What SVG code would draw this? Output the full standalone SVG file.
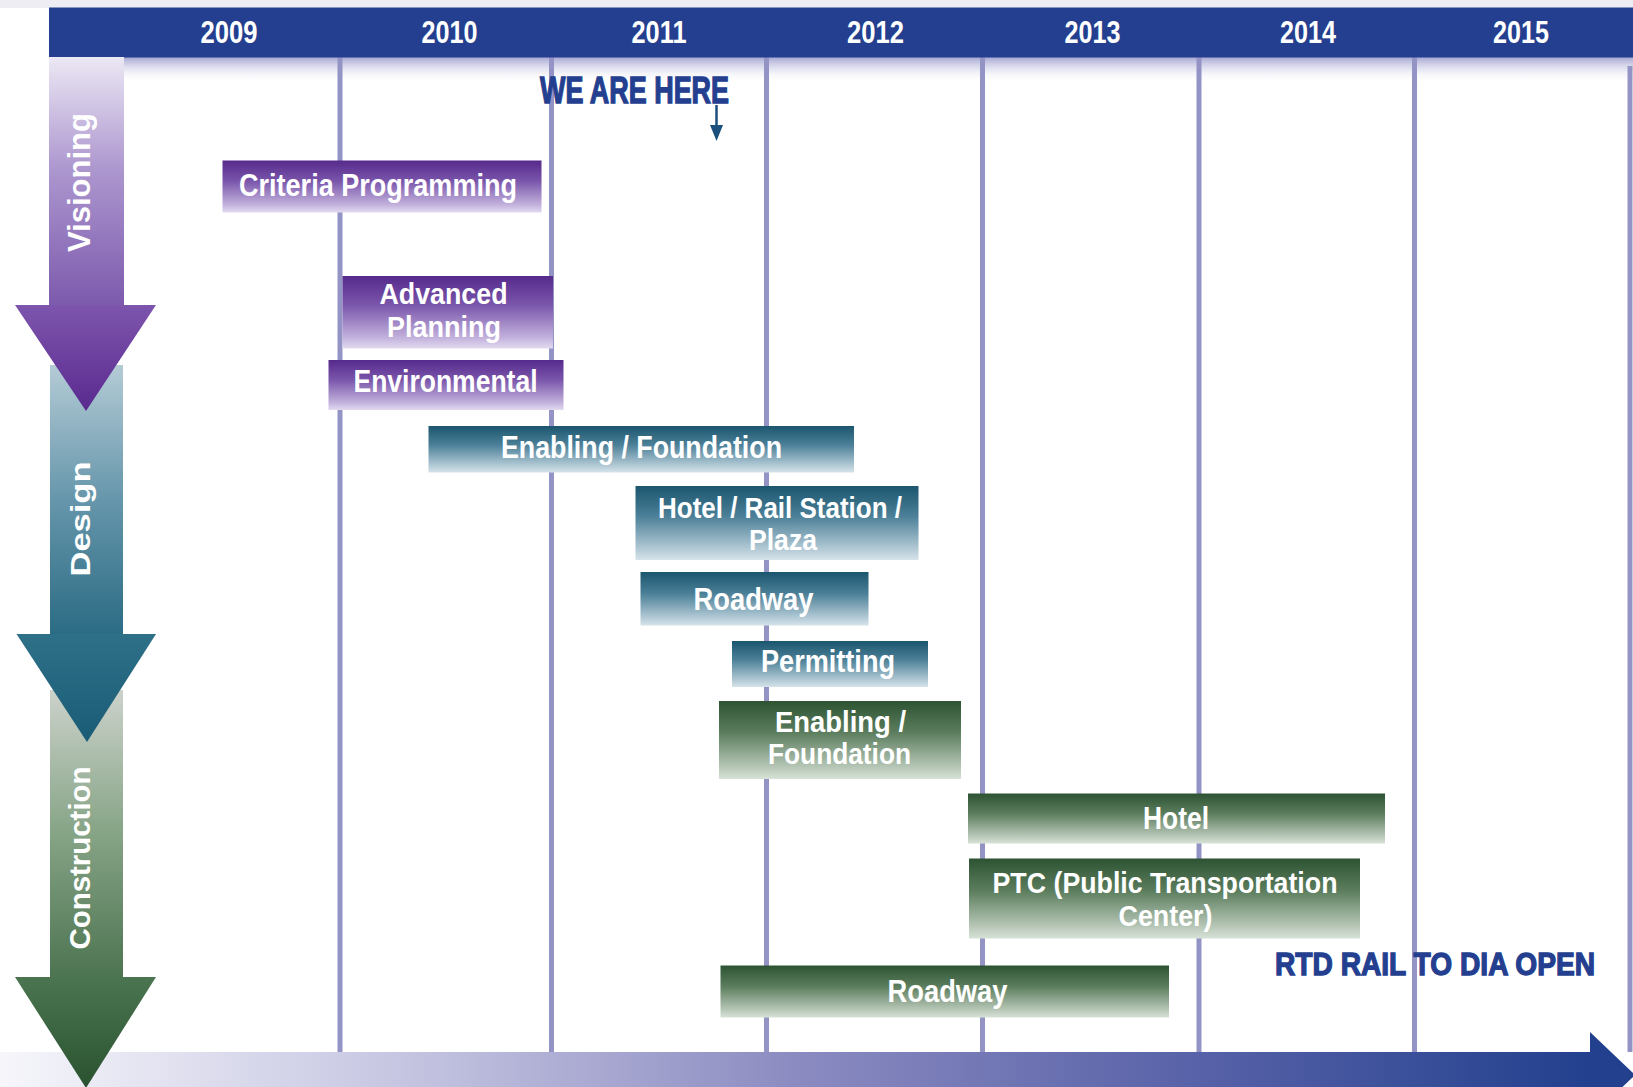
<svg xmlns="http://www.w3.org/2000/svg" width="1633" height="1087" viewBox="0 0 1633 1087">
  <style>
    .yr { font-family: "Liberation Sans Narrow", "Liberation Sans", Arial, sans-serif; font-weight: bold; font-size: 31px; fill: #ffffff; text-anchor: middle; }
    .lbl { font-family: "Liberation Sans Narrow", "Liberation Sans", Arial, sans-serif; font-weight: bold; font-size: 31px; fill: #ffffff; text-anchor: middle; }
    .lbl2 { font-family: "Liberation Sans Narrow", "Liberation Sans", Arial, sans-serif; font-weight: bold; font-size: 29px; fill: #ffffff; text-anchor: middle; }
    .phase { font-family: "Liberation Sans", Arial, sans-serif; font-weight: bold; fill: #ffffff; text-anchor: middle; }
    .call { font-family: "Liberation Sans Narrow", "Liberation Sans", Arial, sans-serif; font-weight: bold; fill: #243f8f; stroke: #243f8f; stroke-width: 1.3; }
    .grid { stroke: #9393c6; stroke-width: 5; }
  </style>
  <defs>
    <linearGradient id="gPurple" x1="0" y1="0" x2="0" y2="1">
      <stop offset="0" stop-color="#562a8c"/>
      <stop offset="0.4" stop-color="#7a56ab"/>
      <stop offset="0.85" stop-color="#c2b1dc"/>
      <stop offset="1" stop-color="#e2daf0"/>
    </linearGradient>
    <linearGradient id="gTeal" x1="0" y1="0" x2="0" y2="1">
      <stop offset="0" stop-color="#1b566e"/>
      <stop offset="0.4" stop-color="#4a7f97"/>
      <stop offset="0.85" stop-color="#b2c9d5"/>
      <stop offset="1" stop-color="#d6e3ea"/>
    </linearGradient>
    <linearGradient id="gGreen" x1="0" y1="0" x2="0" y2="1">
      <stop offset="0" stop-color="#2d5333"/>
      <stop offset="0.4" stop-color="#5b7d5d"/>
      <stop offset="0.85" stop-color="#b7c7b7"/>
      <stop offset="1" stop-color="#d8e2d8"/>
    </linearGradient>
    <linearGradient id="gShadow" x1="0" y1="0" x2="0" y2="1">
      <stop offset="0" stop-color="#a4a4d2"/>
      <stop offset="1" stop-color="#ffffff" stop-opacity="0"/>
    </linearGradient>
    <linearGradient id="gTime" x1="0" y1="0" x2="1" y2="0">
      <stop offset="0" stop-color="#f6f6fb"/>
      <stop offset="0.25" stop-color="#c6c6e2"/>
      <stop offset="0.5" stop-color="#8b8bc1"/>
      <stop offset="0.75" stop-color="#5862a8"/>
      <stop offset="1" stop-color="#22408e"/>
    </linearGradient>
    <!-- phase arrow stems -->
    <linearGradient id="sVis" gradientUnits="userSpaceOnUse" x1="0" y1="57" x2="0" y2="305">
      <stop offset="0" stop-color="#ece8f4"/>
      <stop offset="0.45" stop-color="#ad97cf"/>
      <stop offset="1" stop-color="#7c5aad"/>
    </linearGradient>
    <linearGradient id="hVis" gradientUnits="userSpaceOnUse" x1="0" y1="305" x2="0" y2="411">
      <stop offset="0" stop-color="#7d55ad"/>
      <stop offset="1" stop-color="#5a2a8f"/>
    </linearGradient>
    <linearGradient id="sDes" gradientUnits="userSpaceOnUse" x1="0" y1="365" x2="0" y2="634">
      <stop offset="0" stop-color="#b4cbd6"/>
      <stop offset="0.5" stop-color="#6696ab"/>
      <stop offset="1" stop-color="#2b6c84"/>
    </linearGradient>
    <linearGradient id="hDes" gradientUnits="userSpaceOnUse" x1="0" y1="634" x2="0" y2="742">
      <stop offset="0" stop-color="#2d7088"/>
      <stop offset="1" stop-color="#1a5c75"/>
    </linearGradient>
    <linearGradient id="sCon" gradientUnits="userSpaceOnUse" x1="0" y1="690" x2="0" y2="977">
      <stop offset="0" stop-color="#ccd2cb"/>
      <stop offset="0.5" stop-color="#86a486"/>
      <stop offset="1" stop-color="#4d7451"/>
    </linearGradient>
    <linearGradient id="hCon" gradientUnits="userSpaceOnUse" x1="0" y1="977" x2="0" y2="1087">
      <stop offset="0" stop-color="#4b7550"/>
      <stop offset="1" stop-color="#2a5230"/>
    </linearGradient>
  </defs>

  <!-- background -->
  <rect x="0" y="0" width="1633" height="1087" fill="#ffffff"/>
  <rect x="0" y="0" width="1633" height="8" fill="#ededf3"/>

  <!-- shadow under the year banner -->
  <rect x="49" y="57" width="1584" height="26" fill="url(#gShadow)"/>

  <!-- year gridlines -->
  <g id="gridlines">
    <line class="grid" x1="340" y1="57" x2="340" y2="1052"/>
    <line class="grid" x1="551.5" y1="57" x2="551.5" y2="1052"/>
    <line class="grid" x1="766.5" y1="57" x2="766.5" y2="1052"/>
    <line class="grid" x1="982.5" y1="57" x2="982.5" y2="1052"/>
    <line class="grid" x1="1199" y1="57" x2="1199" y2="1052"/>
    <line class="grid" x1="1414.5" y1="57" x2="1414.5" y2="1052"/>
    <line class="grid" x1="1630" y1="66" x2="1630" y2="1052"/>
  </g>

  <!-- year banner -->
  <g id="banner">
    <rect x="49" y="7.5" width="1584" height="50" fill="#243f8f"/>
    <text class="yr" x="229" y="42.5" textLength="57" lengthAdjust="spacingAndGlyphs">2009</text>
    <text class="yr" x="449.5" y="42.5" textLength="56" lengthAdjust="spacingAndGlyphs">2010</text>
    <text class="yr" x="659" y="42.5" textLength="55" lengthAdjust="spacingAndGlyphs">2011</text>
    <text class="yr" x="875.5" y="42.5" textLength="57" lengthAdjust="spacingAndGlyphs">2012</text>
    <text class="yr" x="1092.5" y="42.5" textLength="56" lengthAdjust="spacingAndGlyphs">2013</text>
    <text class="yr" x="1308" y="42.5" textLength="56" lengthAdjust="spacingAndGlyphs">2014</text>
    <text class="yr" x="1521" y="42.5" textLength="56" lengthAdjust="spacingAndGlyphs">2015</text>
  </g>

  <!-- time axis arrow along the bottom -->
  <g id="time-axis">
    <rect x="0" y="1052" width="1592" height="46" fill="url(#gTime)"/>
    <polygon points="1590,1032 1635,1075 1590,1118" fill="#22408e"/>
  </g>

  <!-- phase arrows on the left -->
  <g id="phase-construction">
    <rect x="50" y="690" width="73" height="288" fill="url(#sCon)"/>
    <polygon points="15,977 156,977 86,1088" fill="url(#hCon)"/>
    <text class="phase" font-size="29" transform="translate(89.5,858) rotate(-90)" textLength="183" lengthAdjust="spacingAndGlyphs">Construction</text>
  </g>
  <g id="phase-design">
    <rect x="50" y="365" width="73" height="270" fill="url(#sDes)"/>
    <polygon points="16.5,634 156,634 87,742" fill="url(#hDes)"/>
    <text class="phase" font-size="27" transform="translate(89.5,519) rotate(-90)" textLength="115" lengthAdjust="spacingAndGlyphs">Design</text>
  </g>
  <g id="phase-visioning">
    <rect x="49" y="57" width="75" height="249" fill="url(#sVis)"/>
    <polygon points="15,305 156,305 86,411" fill="url(#hVis)"/>
    <text class="phase" font-size="31" transform="translate(89.5,182.5) rotate(-90)" textLength="139" lengthAdjust="spacingAndGlyphs">Visioning</text>
  </g>

  <!-- visioning tasks -->
  <g id="criteria-programming">
    <rect x="222.5" y="160.5" width="319" height="52" fill="url(#gPurple)"/>
    <text class="lbl" x="378" y="196" textLength="278" lengthAdjust="spacingAndGlyphs">Criteria Programming</text>
  </g>
  <g id="advanced-planning">
    <rect x="342.5" y="276" width="210.5" height="72.5" fill="url(#gPurple)"/>
    <text class="lbl2" x="443.5" y="304" textLength="128" lengthAdjust="spacingAndGlyphs">Advanced</text>
    <text class="lbl2" x="444" y="336.5" textLength="114" lengthAdjust="spacingAndGlyphs">Planning</text>
  </g>
  <g id="environmental">
    <rect x="328.5" y="360" width="235" height="50" fill="url(#gPurple)"/>
    <text class="lbl" x="445.5" y="391.5" textLength="184" lengthAdjust="spacingAndGlyphs">Environmental</text>
  </g>

  <!-- design tasks -->
  <g id="design-enabling-foundation">
    <rect x="428.5" y="426" width="425.5" height="46.5" fill="url(#gTeal)"/>
    <text class="lbl" x="641.5" y="458" textLength="281" lengthAdjust="spacingAndGlyphs">Enabling / Foundation</text>
  </g>
  <g id="design-hotel-rail-plaza">
    <rect x="635.5" y="486" width="283" height="74" fill="url(#gTeal)"/>
    <text class="lbl2" x="780" y="517.5" textLength="244" lengthAdjust="spacingAndGlyphs">Hotel / Rail Station /</text>
    <text class="lbl2" x="783" y="550" textLength="68" lengthAdjust="spacingAndGlyphs">Plaza</text>
  </g>
  <g id="design-roadway">
    <rect x="640.5" y="572" width="228" height="53.5" fill="url(#gTeal)"/>
    <text class="lbl" x="753.5" y="610" textLength="120" lengthAdjust="spacingAndGlyphs">Roadway</text>
  </g>
  <g id="permitting">
    <rect x="732" y="641" width="196" height="46" fill="url(#gTeal)"/>
    <text class="lbl" x="828" y="672" textLength="134" lengthAdjust="spacingAndGlyphs">Permitting</text>
  </g>

  <!-- construction tasks -->
  <g id="construction-enabling-foundation">
    <rect x="719" y="701" width="242" height="78" fill="url(#gGreen)"/>
    <text class="lbl2" x="840.5" y="731.5" textLength="131" lengthAdjust="spacingAndGlyphs">Enabling /</text>
    <text class="lbl2" x="839.5" y="764" textLength="143" lengthAdjust="spacingAndGlyphs">Foundation</text>
  </g>
  <g id="construction-hotel">
    <rect x="968" y="793.5" width="417" height="50" fill="url(#gGreen)"/>
    <text class="lbl" x="1176" y="829" textLength="66" lengthAdjust="spacingAndGlyphs">Hotel</text>
  </g>
  <g id="construction-ptc">
    <rect x="969" y="858.5" width="391" height="80" fill="url(#gGreen)"/>
    <text class="lbl2" x="1165" y="893" textLength="345" lengthAdjust="spacingAndGlyphs">PTC (Public Transportation</text>
    <text class="lbl2" x="1165.5" y="925.5" textLength="94" lengthAdjust="spacingAndGlyphs">Center)</text>
  </g>
  <g id="construction-roadway">
    <rect x="720.5" y="965.5" width="448.5" height="52" fill="url(#gGreen)"/>
    <text class="lbl" x="947.5" y="1001.5" textLength="120" lengthAdjust="spacingAndGlyphs">Roadway</text>
  </g>

  <!-- callouts -->
  <g id="we-are-here">
    <text class="call" x="540" y="102.5" font-size="36" textLength="189" lengthAdjust="spacingAndGlyphs">WE ARE HERE</text>
  </g>
  <g id="rail-open">
    <text class="call" x="1275" y="974.5" font-size="31.5" textLength="320" lengthAdjust="spacingAndGlyphs">RTD RAIL TO DIA OPEN</text>
  </g>

  <g id="connectors">
    <line x1="716.5" y1="105" x2="716.5" y2="128" stroke="#1b4f7c" stroke-width="2.5"/>
    <polygon points="710,125 723,125 716.5,141" fill="#1b4f7c"/>
  </g>
</svg>
